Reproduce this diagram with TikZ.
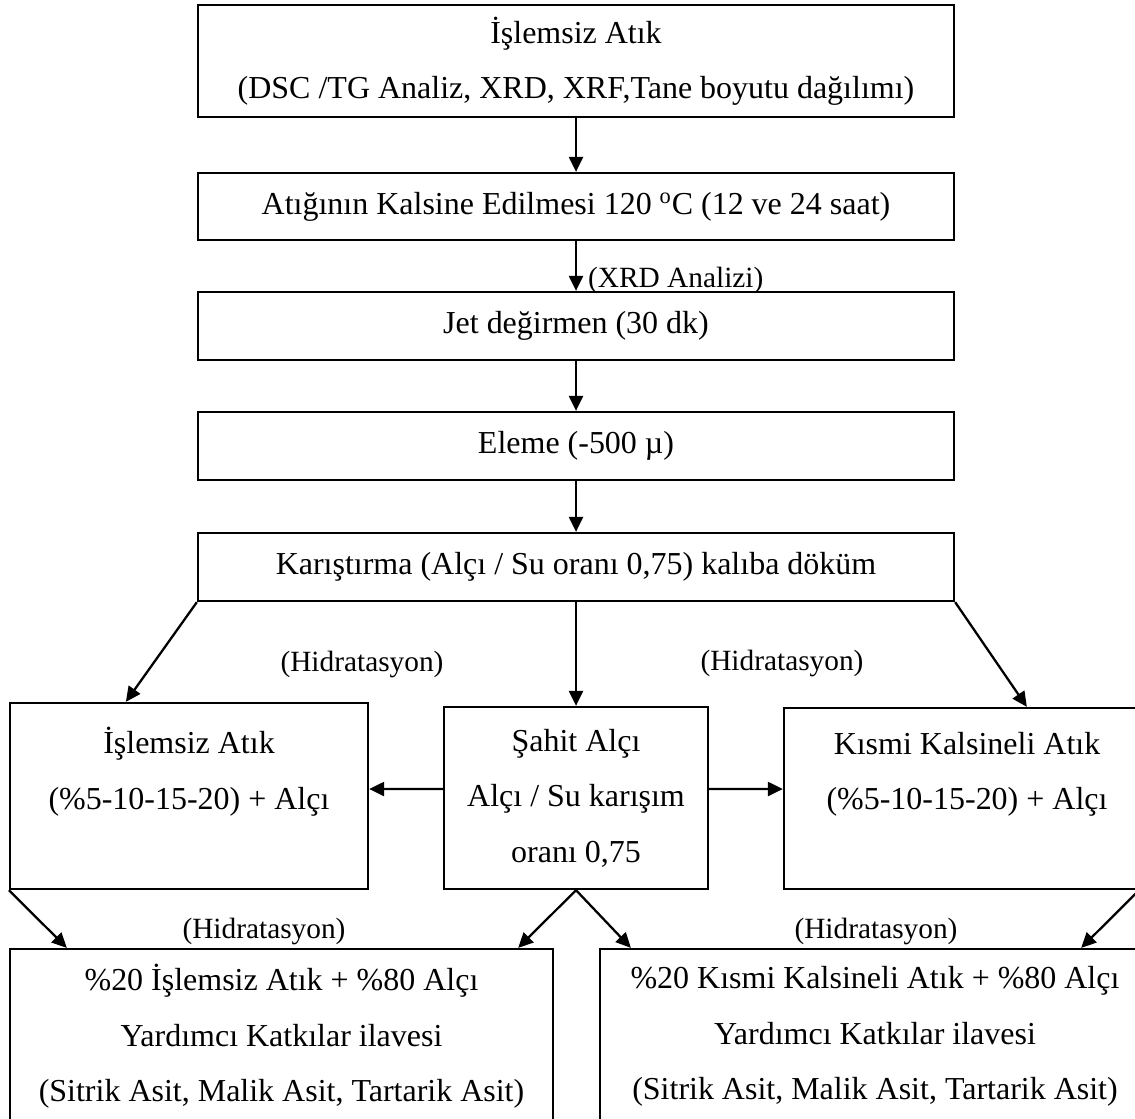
\documentclass[tikz,border=0pt]{standalone}
\usepackage{fontspec}
\setmainfont{Liberation Serif}
\usetikzlibrary{arrows.meta}
\tikzset{
  blk/.style={rectangle,draw,align=center,font=\fontsize{18.2}{31.5}\selectfont},
  lbl/.style={font=\fontsize{16.7}{20}\selectfont,inner sep=0pt}
}

\begin{document}
\begin{tikzpicture}[>={Triangle[length=0.3cm,width=0.28cm]},line width=1.3pt]
        \useasboundingbox (0,0) rectangle (22.7,-22.36);

        \node[blk,minimum width=15.12cm,minimum height=2.24cm] (box_raw) at (11.52,-1.22) {İşlemsiz Atık\\(DSC /TG Analiz, XRD, XRF,Tane boyutu dağılımı)};
        \node[blk,minimum width=15.12cm,minimum height=1.34cm] (box_calc) at (11.52,-4.13) {Atığının Kalsine Edilmesi 120 \textsuperscript{o}C (12 ve 24 saat)};
        \node[blk,minimum width=15.12cm,minimum height=1.36cm] (box_jet) at (11.52,-6.52) {Jet değirmen (30 dk)};
        \node[blk,minimum width=15.12cm,minimum height=1.36cm] (box_sieve) at (11.52,-8.92) {Eleme (-500 µ)};
        \node[blk,minimum width=15.12cm,minimum height=1.36cm] (box_mix) at (11.52,-11.34) {Karıştırma (Alçı / Su oranı 0,75) kalıba döküm};

        \node[blk,minimum width=7.16cm,minimum height=3.72cm] (raw_mix) at (3.78,-15.92) {İşlemsiz Atık\\(\%5-10-15-20) + Alçı\\~};
        \node[blk,minimum width=5.28cm,minimum height=3.64cm] (ref) at (11.52,-15.96) {Şahit Alçı\\Alçı / Su karışım\\oranı 0,75};
        \node[blk,minimum width=7.32cm,minimum height=3.62cm] (calc_mix) at (19.34,-15.97) {Kısmi Kalsineli Atık\\(\%5-10-15-20) + Alçı\\~};

        \node[blk,minimum width=10.86cm,minimum height=3.5cm] (raw_add) at (5.63,-20.73) {\%20 İşlemsiz Atık + \%80 Alçı\\Yardımcı Katkılar ilavesi\\(Sitrik Asit, Malik Asit, Tartarik Asit)};
        \node[blk,minimum width=11cm,minimum height=3.5cm] (calc_add) at (17.5,-20.73) {\%20 Kısmi Kalsineli Atık + \%80 Alçı\\Yardımcı Katkılar ilavesi\\(Sitrik Asit, Malik Asit, Tartarik Asit)};

        \node[lbl] (hyd_l) at (7.24,-13.28) {(Hidratasyon)};
        \node[lbl] (hyd_r) at (15.64,-13.26) {(Hidratasyon)};
        \node[lbl] (hyd_bl) at (5.28,-18.62) {(Hidratasyon)};
        \node[lbl] (hyd_br) at (17.52,-18.62) {(Hidratasyon)};

        \draw[->] (box_raw) -- (box_calc);
        \draw[->] (box_calc) -- node[lbl,right=0.22cm,pos=0.79] (xrd) {(XRD Analizi)} (box_jet);
        \draw[->] (box_jet) -- (box_sieve);
        \draw[->] (box_sieve) -- (box_mix);

        \draw[->] (box_mix.south west) -- ([xshift=2.34cm]raw_mix.north west);
        \draw[->] (box_mix) -- (ref);
        \draw[->] (box_mix.south east) -- ([xshift=4.88cm]calc_mix.north west);
        \draw[->] ([yshift=0.18cm]ref.west) -- ([yshift=0.14cm]raw_mix.east);
        \draw[->] ([yshift=0.18cm]ref.east) -- ([yshift=0.19cm]calc_mix.west);

        \draw[->] (raw_mix.south west) -- ([xshift=1.16cm]raw_add.north west);
        \draw[->] (ref.south) -- ([xshift=-0.72cm]raw_add.north east);
        \draw[->] (ref.south) -- ([xshift=0.64cm]calc_add.north west);
        \draw[->] ([xshift=-0.24cm]calc_mix.south east) -- ([xshift=-1.4cm]calc_add.north east);

    \end{tikzpicture}
\end{document}
